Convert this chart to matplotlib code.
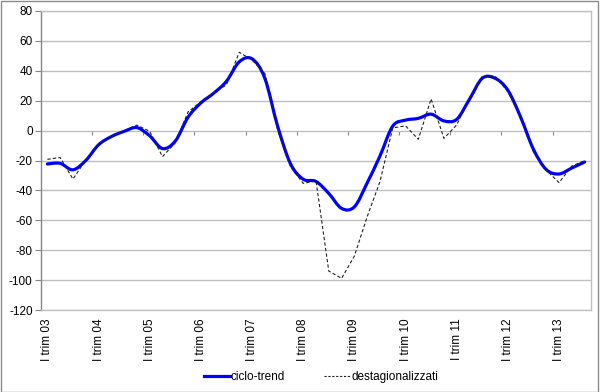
import numpy as np
import matplotlib
matplotlib.use("Agg")
import matplotlib.pyplot as plt
from matplotlib.path import Path
from matplotlib.patches import PathPatch, Rectangle
from matplotlib.lines import Line2D

plt.rcParams['font.family'] = ['Liberation Sans', 'DejaVu Sans']
plt.rcParams['axes.unicode_minus'] = False

years = ["03", "04", "05", "06", "07", "08", "09", "10", "11", "12", "13"]
tick_labels = ["I trim " + y for y in years]

# ciclo-trend (smoothed line in the original)
ciclo_trend = [-22.3, -21.9, -26.2, -20.0, -9.5, -4.0, -0.5, 2.0, -3.5, -12.0,
               -7.0, 9.0, 18.5, 25.0, 33.0, 46.0, 48.0, 35.0, 3.0, -22.0,
               -32.5, -34.0, -42.0, -52.0, -51.0, -35.0, -17.0, 3.0, 7.0, 8.2,
               11.0, 6.5, 7.5, 21.0, 35.0, 35.0, 27.0, 9.0, -12.5, -26.0,
               -29.0, -25.0, -21.0]

# destagionalizzati
destag = [-19.2, -18.0, -32.4, -19.7, -9.5, -3.8, 0.0, 3.7, -0.5, -17.4,
          -8.1, 12.5, 19.3, 25.4, 30.5, 52.4, 47.2, 38.3, 0.4, -24.1,
          -35.3, -33.5, -93.9, -98.8, -83.9, -57.6, -34.2, 1.8, 3.2, -5.8,
          21.2, -5.2, 3.8, 21.6, 36.3, 36.5, 26.0, 9.3, -14.1, -26.4,
          -34.8, -23.7, -20.1]


def smooth_path(xs, ys):
    # catmull-rom -> bezier, like the spreadsheet "smoothed line"
    pts = np.column_stack([xs, ys])
    verts = [pts[0]]
    codes = [Path.MOVETO]
    n = len(pts)
    for i in range(n - 1):
        p0 = pts[max(i - 1, 0)]
        p1 = pts[i]
        p2 = pts[i + 1]
        p3 = pts[min(i + 2, n - 1)]
        c1 = p1 + (p2 - p0) / 6.0
        c2 = p2 - (p3 - p1) / 6.0
        verts += [c1, c2, p2]
        codes += [Path.CURVE4] * 3
    return Path(verts, codes)


fig = plt.figure(figsize=(6.0, 3.92), dpi=100)
ax = fig.add_axes([0.0683, 0.209, 0.9167, 0.763])

x = np.arange(len(ciclo_trend))

grid_c = "#c0c0c0"
axis_c = "#868686"

patch = PathPatch(smooth_path(x, ciclo_trend), facecolor="none",
                  edgecolor="#0000ff", lw=2.3, zorder=3, capstyle="round",
                  joinstyle="round")
ax.add_patch(patch)
ax.plot(x, destag, color="#222222", lw=0.8, dashes=(3, 2), zorder=4)

ax.set_xlim(-0.5, len(x) - 0.5)
ax.set_ylim(-120, 80)
ax.set_yticks(np.arange(-120, 81, 20))
ax.yaxis.grid(True, color=grid_c, lw=1.0)
ax.set_axisbelow(True)

ax.set_xticks(x[::4])
ax.set_xticklabels(tick_labels, rotation=90, fontsize=8.5)
ax.tick_params(axis="x", length=0, pad=6)
ax.tick_params(axis="y", direction="out", length=4, color=axis_c,
               labelsize=8.5, pad=2)

for side in ["top", "right", "bottom"]:
    ax.spines[side].set_color(grid_c)
    ax.spines[side].set_linewidth(1.0)
ax.spines["left"].set_color(axis_c)
ax.spines["left"].set_linewidth(1.0)

# horizontal axis crosses at zero, tick marks between categories
sec = ax.secondary_xaxis(0.6)
sec.set_xticks(np.arange(3.5, len(x), 4))
sec.tick_params(axis="x", direction="out", length=3, color=axis_c,
                labelbottom=False, labeltop=False, bottom=True, top=False)
sec.spines["bottom"].set_color(axis_c)
sec.spines["top"].set_visible(False)

handles = [Line2D([], [], color="#0000ff", lw=2.3),
           Line2D([], [], color="#222222", lw=0.8, dashes=(2, 1.5))]
fig.legend(handles, ["ciclo-trend", "destagionalizzati"], loc="center",
           bbox_to_anchor=(0.535, 0.038), ncol=2, frameon=False,
           fontsize=8.5, handlelength=2.2, handletextpad=0.1,
           columnspacing=3.3)

fig.add_artist(Rectangle((0.001, 0.001), 0.995, 0.997, transform=fig.transFigure,
                         fill=False, edgecolor="#8c8c8c", lw=1.0))

fig.savefig("out.png", dpi=100)
